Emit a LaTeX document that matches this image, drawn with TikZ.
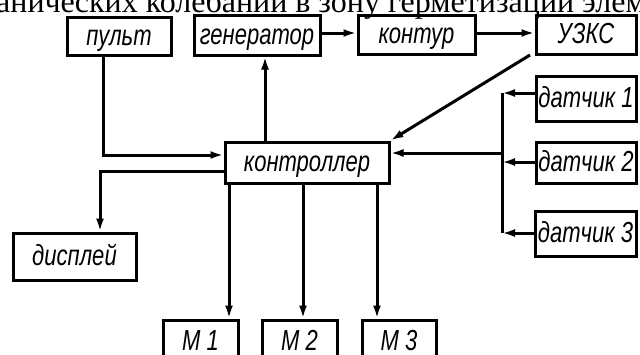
\documentclass[tikz,border=0pt]{standalone}
\usepackage{fontspec}
\setmainfont{Liberation Serif}
\newfontfamily\gostfont{Liberation Sans}[FakeStretch=0.76]
\usetikzlibrary{arrows.meta,positioning}

\begin{document}
\begin{tikzpicture}[
  x=1pt, y=-1pt,
  font=\gostfont\itshape\fontsize{29}{29}\selectfont,
  blk/.style={draw, line width=3pt, inner sep=0pt, minimum height=40pt, text height=20pt, text depth=2pt},
  arr/.style={-{Latex[length=13pt,width=8pt]}, line width=3pt},
  ln/.style={line width=3pt}
]
\useasboundingbox (0,0) rectangle (640,354);
\clip (0,0) rectangle (640,354);
% caption line cut at the top
\node[anchor=base west, inner sep=0pt, font=\rmfamily\fontsize{32}{32}\selectfont] (cap) at (-4,12) {аничеcких колебаний в зону герметизации элем};
% top row
\node[blk, minimum width=104pt, minimum height=38pt] (pult) at (119,36) {пульт};
\node[blk, minimum width=126pt] (gen) at (257,35) {генератор};
\node[blk, minimum width=117pt, minimum height=39pt] (kontur) at (416.5,34.5) {контур};
\node[blk, minimum width=100pt, minimum height=39pt] (uzks) at (586,34.5) {УЗКС};
% middle
\node[blk, minimum width=164pt, minimum height=41pt] (ctrl) at (307,162.5) {контроллер};
\node[blk, minimum width=100pt, minimum height=45pt] (dat1) at (586,98.5) {датчик 1};
\node[blk, minimum width=100pt, minimum height=41pt] (dat2) at (586,162.5) {датчик 2};
\node[blk, minimum width=101pt, minimum height=45pt] (dat3) at (585.5,233.5) {датчик 3};
\node[blk, minimum width=123pt, minimum height=47pt] (disp) at (74.5,256.5) {дисплей};
% motors
\node[blk, minimum width=75pt, minimum height=42pt] (m1) at (200.5,341) {М 1};
\node[blk, minimum width=75pt, minimum height=42pt] (m2) at (299.5,341) {М 2};
\node[blk, minimum width=74pt, minimum height=42pt] (m3) at (399,341) {М 3};
% sensor bus
\coordinate (bt) at (502,93);
\coordinate (bb) at (502,233);
\draw[ln] (bt) -- (bb);
\draw[arr] (dat1.west |- bt) -- (bt);
\draw[arr] (dat2.west |- 0,162) -- (502,162);
\draw[arr] (dat3.west |- bb) -- (bb);
\draw[arr] (502,153) -- (ctrl.east |- 0,153);
% links
\draw[arr] (pult.south -| 103,0) |- (ctrl.west |- 0,155);
\draw[arr] (ctrl.north -| 265,0) -- (gen.south -| 265,0);
\draw[arr] (gen.east |- 0,33) -- (kontur.west |- 0,33);
\draw[arr] (kontur.east |- 0,33) -- (uzks.west |- 0,33);
\draw[arr] (530,55) -- (ctrl.north east);
\draw[arr] (ctrl.west |- 0,171) -| (disp.north -| 100,0);
\draw[arr] (ctrl.south -| 229,0) -- (m1.north -| 229,0);
\draw[arr] (ctrl.south -| 303,0) -- (m2.north -| 303,0);
\draw[arr] (ctrl.south -| 377,0) -- (m3.north -| 377,0);
\end{tikzpicture}
\end{document}
